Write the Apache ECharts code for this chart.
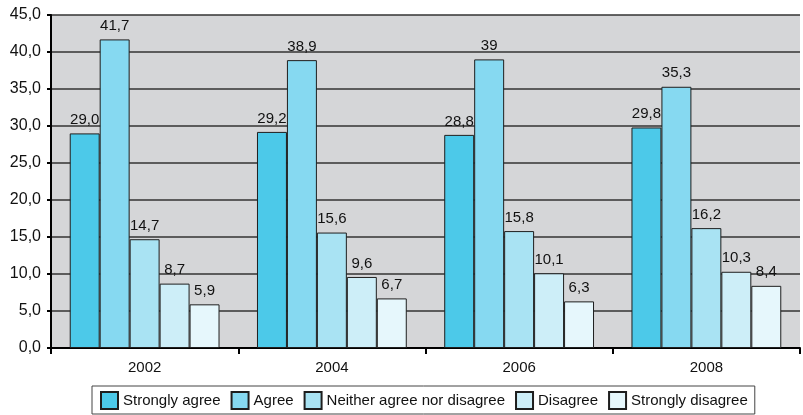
<!DOCTYPE html>
<html>
<head>
<meta charset="utf-8">
<script src="https://cdn.jsdelivr.net/npm/echarts@6/dist/echarts.min.js"></script>
<style>
  html, body { margin: 0; padding: 0; background: #fff; }
  #main { width: 803px; height: 415px; }
</style>
</head>
<body>
<div id="main"></div>
<script>
var years = ['2002', '2004', '2006', '2008'];
var seriesNames = ['Strongly agree', 'Agree', 'Neither agree nor disagree', 'Disagree', 'Strongly disagree'];
var stronglyAgree = [29.0, 29.2, 28.8, 29.8];
var agree = [41.7, 38.9, 39, 35.3];
var neither = [14.7, 15.6, 15.8, 16.2];
var disagree = [8.7, 9.6, 10.1, 10.3];
var stronglyDisagree = [5.9, 6.7, 6.3, 8.4];
// labels as printed in the source (2006 "Agree" has no decimal)
var labelText = [
    ['29,0', '29,2', '28,8', '29,8'],
    ['41,7', '38,9', '39', '35,3'],
    ['14,7', '15,6', '15,8', '16,2'],
    ['8,7', '9,6', '10,1', '10,3'],
    ['5,9', '6,7', '6,3', '8,4']
];
var colors = ['#4cc9e9', '#86d9f1', '#a9e3f3', '#cdeef8', '#e6f7fc'];

function createChart() {
    var chartDom = document.getElementById('main');
    var myChart = echarts.init(chartDom);
    var font = 'Liberation Sans, Arial, sans-serif';
    var allValues = [stronglyAgree, agree, neither, disagree, stronglyDisagree];

    var series = allValues.map(function (vals, i) {
        return {
            name: seriesNames[i],
            type: 'bar',
            data: vals,
            barGap: '0%',
            barCategoryGap: '20%',
            itemStyle: { color: colors[i], borderColor: '#1e1e1e', borderWidth: 1 },
            label: {
                show: true,
                position: 'top',
                distance: 6,
                fontFamily: font,
                fontSize: 15,
                color: '#111',
                formatter: function (p) { return labelText[i][p.dataIndex]; }
            }
        };
    });

    var option = {
        animation: false,
        color: colors,
        grid: {
            left: 51, right: 3, top: 15, bottom: 67,
            show: true, backgroundColor: '#d5d6d8', borderWidth: 0
        },
        legend: {
            bottom: 1,
            left: 92,
            icon: 'rect',
            itemWidth: 17,
            itemHeight: 17,
            itemGap: 10,
            padding: [5, 7, 4, 8],
            borderColor: '#444',
            borderWidth: 1,
            textStyle: { fontFamily: font, fontSize: 15, color: '#111' },
            data: seriesNames
        },
        xAxis: {
            type: 'category',
            data: years,
            axisLine: { lineStyle: { color: '#000', width: 2 } },
            axisTick: { show: true, length: 6, lineStyle: { color: '#000', width: 2 } },
            axisLabel: { fontFamily: font, fontSize: 15, color: '#111', margin: 12 }
        },
        yAxis: {
            type: 'value',
            min: 0,
            max: 45,
            interval: 5,
            axisLine: { show: true, lineStyle: { color: '#000', width: 2 } },
            axisTick: { show: true, length: 4, lineStyle: { color: '#000', width: 2 } },
            axisLabel: {
                fontFamily: font, fontSize: 16, color: '#111', margin: 10,
                formatter: function (v) { return v.toFixed(1).replace('.', ','); }
            },
            splitLine: { lineStyle: { color: '#333', width: 1.5 } }
        },
        series: series
    };

    option && myChart.setOption(option);
}
createChart();
</script>
</body>
</html>
